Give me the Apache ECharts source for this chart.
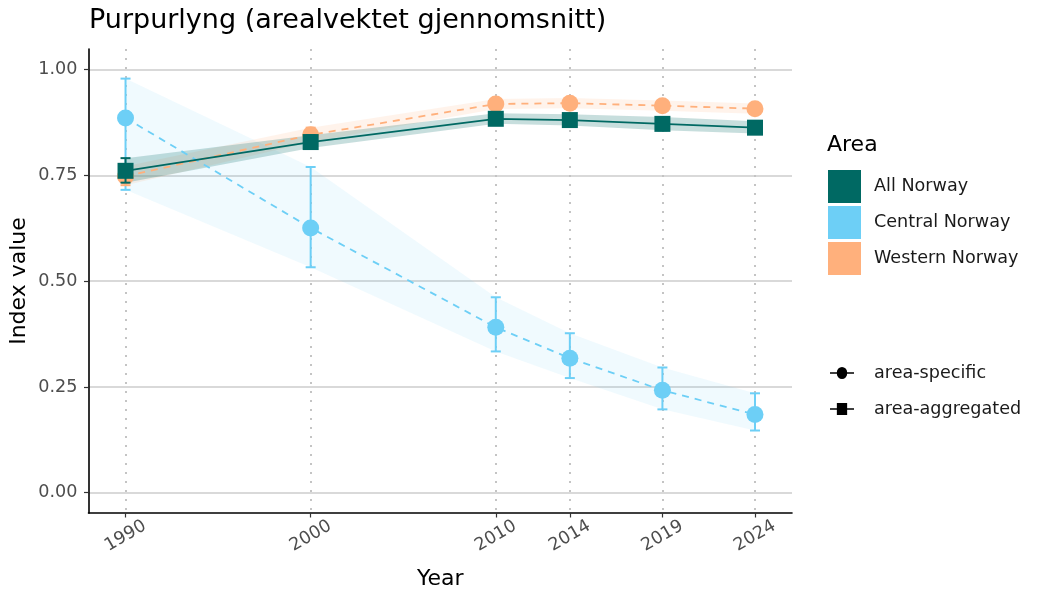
<!DOCTYPE html>
<html><head><meta charset="utf-8">
<script src="https://cdn.jsdelivr.net/npm/echarts@6/dist/echarts.min.js"></script>
<style>html,body{margin:0;padding:0;background:#fff}#c{width:1050px;height:600px}</style>
</head><body><div id="c"></div>
<script>
const years = [1990, 2000, 2010, 2014, 2019, 2024];
const yTicks = [0, 0.25, 0.5, 0.75, 1.0];

const allNorway     = [0.761, 0.829, 0.884, 0.881, 0.872, 0.863];
const allNorwayLow  = [0.733, 0.815, 0.872, 0.868, 0.857, 0.849];
const allNorwayHigh = [0.791, 0.845, 0.897, 0.895, 0.888, 0.878];

const central     = [0.886, 0.626, 0.391, 0.318, 0.242, 0.185];
const centralLow  = [0.716, 0.533, 0.334, 0.271, 0.197, 0.147];
const centralHigh = [0.979, 0.770, 0.462, 0.377, 0.296, 0.235];

const western     = [0.748, 0.846, 0.919, 0.921, 0.915, 0.908];
const westernLow  = [0.727, 0.829, 0.907, 0.909, 0.903, 0.896];
const westernHigh = [0.772, 0.863, 0.931, 0.933, 0.927, 0.920];

const C_ALL = '#006963', C_CEN = '#6DCFF6', C_WES = '#FFB07C';
const FONT = 'DejaVu Sans';

function pts(vals){ return years.map((y,i)=>[y, vals[i]]); }
function ribbon(name, low, high, color, opacity, z){
  const data = years.map((y,i)=>[y, low[i], high[i]]);
  return {
    type:'custom', name:name, z:z, silent:true,
    data: data, encode:{x:0, y:[1,2]},
    renderItem:function(params, api){
      if (params.dataIndex !== 0) return null;
      const top = data.map(d=>api.coord([d[0], d[2]]));
      const bot = data.map(d=>api.coord([d[0], d[1]])).reverse();
      return {type:'polygon', shape:{points: top.concat(bot)},
              style:{fill: color, opacity: opacity}};
    }
  };
}
function errbars(name, low, high, color, z){
  const data = years.map((y,i)=>[y, low[i], high[i]]);
  return {
    type:'custom', name:name, z:z, silent:true,
    data: data, encode:{x:0, y:[1,2]},
    renderItem:function(params, api){
      const x = api.value(0);
      const a = api.coord([x, api.value(1)]);
      const b = api.coord([x, api.value(2)]);
      const w = 5;
      const st = {stroke: color, lineWidth: 2};
      return {type:'group', children:[
        {type:'line', shape:{x1:a[0], y1:a[1], x2:b[0], y2:b[1]}, style:st},
        {type:'line', shape:{x1:a[0]-w, y1:a[1], x2:a[0]+w, y2:a[1]}, style:st},
        {type:'line', shape:{x1:b[0]-w, y1:b[1], x2:b[0]+w, y2:b[1]}, style:st}
      ]};
    }
  };
}
function line(name, vals, color, dashed, symbol, size, z){
  return {
    type:'line', name:name, z:z, data: pts(vals),
    symbol: symbol, symbolSize: size, showSymbol:true,
    lineStyle:{color:color, width:1.8, type: dashed ? [7,6] : 'solid'},
    itemStyle:{color:color, opacity:1}, emphasis:{disabled:true}, animation:false
  };
}

const iconCircle = 'path://M0,9 L8,9 A6,6 0 0 1 20,9 L28,9 L28,11 L20,11 A6,6 0 0 1 8,11 L0,11 Z';
const iconSquare = 'path://M0,9 L8,9 L8,3 L20,3 L20,9 L28,9 L28,11 L20,11 L20,17 L8,17 L8,11 L0,11 Z';

const chart = echarts.init(document.getElementById('c'), null, {renderer:'canvas'});
chart.setOption({
  animation:false,
  backgroundColor:'#ffffff',
  title:{text:'Purpurlyng (arealvektet gjennomsnitt)', left:84, top:2,
         textStyle:{fontFamily:FONT, fontSize:27, fontWeight:'normal', color:'#000'}},
  grid:{left:88.5, right:258, top:49, bottom:87, containLabel:false, outerBoundsMode:'none'},
  xAxis:{
    type:'value', min:1988, max:2026,
    name:'Year', nameLocation:'middle', nameGap:55,
    nameTextStyle:{fontFamily:FONT, fontSize:22, color:'#000'},
    axisLine:{show:true, onZero:false, lineStyle:{color:'#000', width:1.6}},
    axisTick:{show:true, customValues: years, length:4.5, lineStyle:{color:'#333', width:1.2}},
    axisLabel:{customValues: years, rotate:30, margin:23, align:'center', verticalAlign:'middle',
               fontFamily:FONT, fontSize:17.6, color:'#4d4d4d',
               formatter: v => String(v)},
    splitLine:{show:true, lineStyle:{color:'#c4c4c4', width:2, type:[2,7]}}
  },
  yAxis:{
    type:'value', min:-0.048, max:1.049,
    name:'Index value', nameLocation:'middle', nameGap:58, nameRotate:90, nameMoveOverlap:false,
    nameTextStyle:{fontFamily:FONT, fontSize:22, color:'#000'},
    axisLine:{show:true, onZero:false, lineStyle:{color:'#000', width:1.6}},
    axisTick:{show:true, customValues: yTicks, length:4.5, lineStyle:{color:'#333', width:1.2}},
    axisLabel:{customValues: yTicks, margin:11, fontFamily:FONT, fontSize:17.6, color:'#4d4d4d',
               formatter: v => v.toFixed(2)},
    splitLine:{show:true, lineStyle:{color:'#cccccc', width:1.5}}
  },
  graphic:[{type:'text', left:827, top:134,
            style:{text:'Area', fontFamily:FONT, fontSize:22, fill:'#000'}}],
  legend:[
    {data:['All Norway','Central Norway','Western Norway'], orient:'vertical',
     left:823, top:165, itemWidth:33, itemHeight:33, itemGap:3, icon:'rect',
     selectedMode:false, textStyle:{fontFamily:FONT, fontSize:17.6, color:'#1a1a1a', padding:[0,0,0,8]}},
    {data:[{name:'area-specific', icon:iconCircle},{name:'area-aggregated', icon:iconSquare}],
     orient:'vertical', left:825, top:359, itemWidth:24, itemHeight:18, itemGap:18,
     selectedMode:false, textStyle:{fontFamily:FONT, fontSize:17.6, color:'#1a1a1a', padding:[0,0,0,15]}}
  ],
  series:[
    ribbon('rib-cen', centralLow, centralHigh, C_CEN, 0.1, 1),
    ribbon('rib-wes', westernLow, westernHigh, C_WES, 0.15, 1),
    ribbon('rib-all', allNorwayLow, allNorwayHigh, C_ALL, 0.22, 1),
    line('Central Norway', central, C_CEN, true, 'circle', 17, 3),
    errbars('err-cen', centralLow, centralHigh, C_CEN, 3),
    line('Western Norway', western, C_WES, true, 'circle', 17, 4),
    errbars('err-wes', westernLow, westernHigh, C_WES, 4),
    errbars('err-all', allNorwayLow, allNorwayHigh, C_ALL, 5),
    line('All Norway', allNorway, C_ALL, false, 'rect', 16, 5),
    {type:'line', name:'area-specific', data:[], itemStyle:{color:'#000'}, lineStyle:{color:'#000'}},
    {type:'line', name:'area-aggregated', data:[], itemStyle:{color:'#000'}, lineStyle:{color:'#000'}}
  ]
});
</script></body></html>
